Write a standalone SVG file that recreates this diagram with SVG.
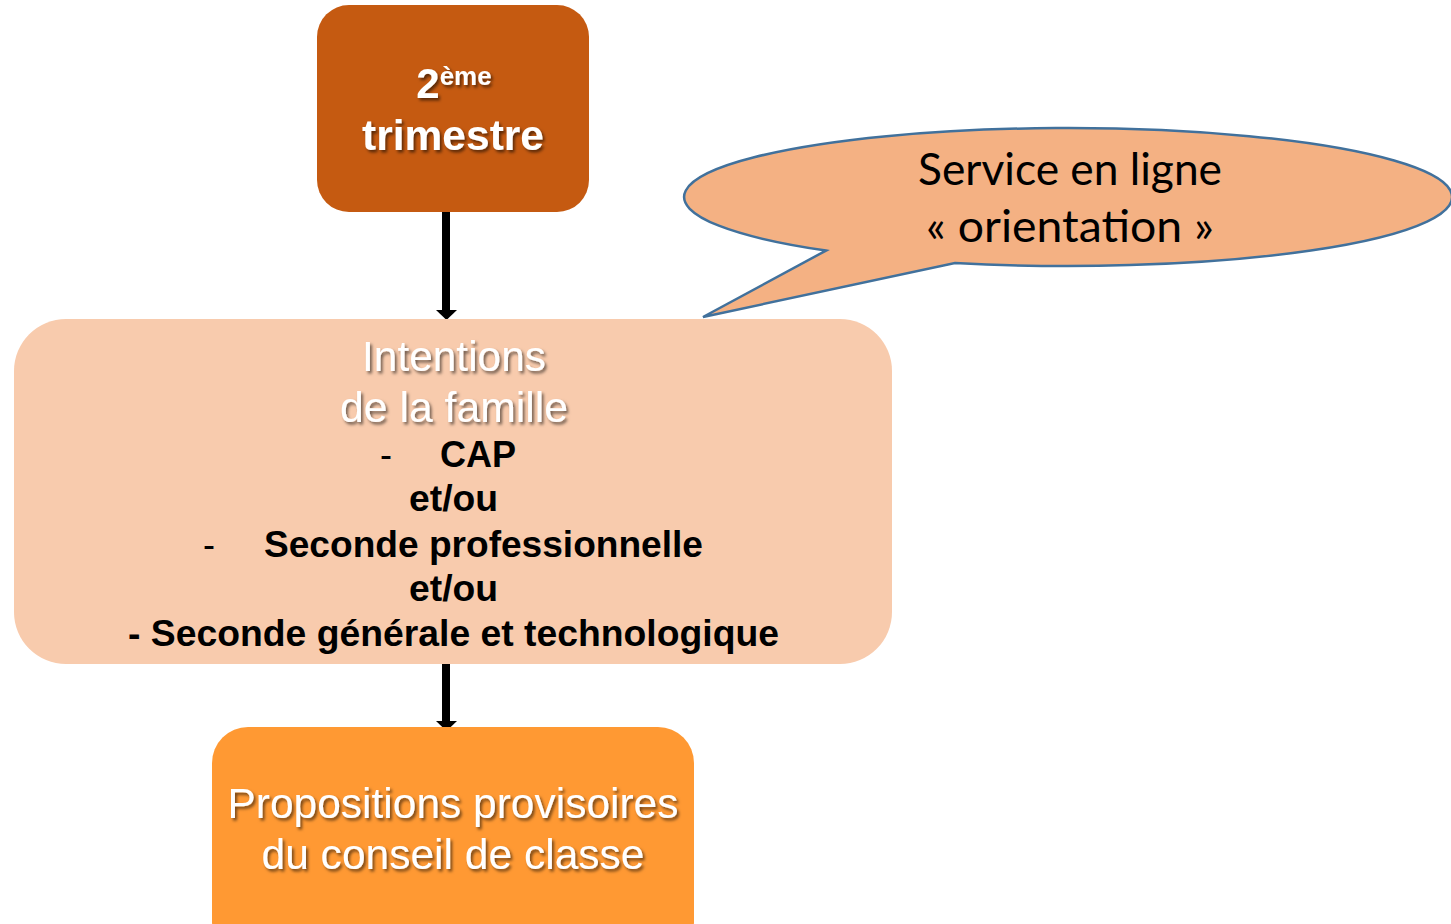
<svg xmlns="http://www.w3.org/2000/svg" width="1451" height="924" viewBox="0 0 1451 924">
<defs>
<filter id="sh" x="-10%" y="-30%" width="120%" height="160%">
<feDropShadow dx="2" dy="2.5" stdDeviation="1.5" flood-color="#000" flood-opacity="0.55"/>
</filter>
</defs>
<style>
.w{fill:#fff;font-family:"Liberation Sans",Arial,sans-serif;text-anchor:middle;}
.b{fill:#000;font-family:"Liberation Sans",Arial,sans-serif;font-weight:bold;font-size:36px;}
.d{fill:#000;font-family:"Liberation Sans",Arial,sans-serif;font-weight:normal;font-size:36px;}
.c{fill:#000;font-family:Lato,"Open Sans",sans-serif;font-size:44px;text-anchor:middle;}
.shaft{stroke:#000;stroke-width:8;fill:none;}
.head{fill:#000;}
</style>
<rect width="1451" height="924" fill="#fff"/>
<g id="connectors">
<line class="shaft" x1="446" y1="212" x2="446" y2="311"/>
<polygon class="head" points="436,310 457,310 446.5,320"/>
<line class="shaft" x1="446" y1="664" x2="446" y2="722"/>
<polygon class="head" points="436,721 457,721 446.5,731"/>
</g>
<g id="callout">
<path d="M826,250.57 L703,317 L955,262.95 A384,69 0 1 0 826,250.57 Z" fill="#F4B183" stroke="#41719C" stroke-width="2.5" stroke-linejoin="miter"/>
<text class="c" x="1070" y="185" textLength="304" lengthAdjust="spacingAndGlyphs">Service en ligne</text>
<text class="c" x="1070" y="242" textLength="288" lengthAdjust="spacingAndGlyphs">« orientation »</text>
</g>
<g id="trimestre">
<rect x="317" y="5" width="272" height="207" rx="32" fill="#C55A11"/>
<g filter="url(#sh)">
<text class="w" x="454" y="98" font-weight="bold"><tspan font-size="42">2</tspan><tspan font-size="26" dy="-13">ème</tspan></text>
<text class="w" x="453" y="150" font-weight="bold" font-size="42" textLength="182" lengthAdjust="spacingAndGlyphs">trimestre</text>
</g>
</g>
<g id="intentions">
<rect x="14" y="319" width="878" height="345" rx="52" fill="#F8CBAD"/>
<g filter="url(#sh)">
<text class="w" x="454" y="371" font-size="42" textLength="184" lengthAdjust="spacingAndGlyphs">Intentions</text>
<text class="w" x="454" y="422" font-size="42" textLength="228" lengthAdjust="spacingAndGlyphs">de la famille</text>
</g>
<text class="d" x="380" y="467">-</text>
<text class="b" x="440" y="467" textLength="76" lengthAdjust="spacingAndGlyphs">CAP</text>
<text class="b" x="409" y="511" textLength="89" lengthAdjust="spacingAndGlyphs">et/ou</text>
<text class="d" x="203" y="557">-</text>
<text class="b" x="264" y="557" textLength="439" lengthAdjust="spacingAndGlyphs">Seconde professionnelle</text>
<text class="b" x="409" y="601" textLength="89" lengthAdjust="spacingAndGlyphs">et/ou</text>
<text class="b" x="128" y="646" textLength="651" lengthAdjust="spacingAndGlyphs">- Seconde générale et technologique</text>
</g>
<g id="propositions">
<rect x="212" y="727" width="482" height="230" rx="36" fill="#FF9933"/>
<g filter="url(#sh)">
<text class="w" x="453" y="818" font-size="42" textLength="451" lengthAdjust="spacingAndGlyphs">Propositions provisoires</text>
<text class="w" x="453" y="869" font-size="42" textLength="383" lengthAdjust="spacingAndGlyphs">du conseil de classe</text>
</g>
</g>
</svg>
